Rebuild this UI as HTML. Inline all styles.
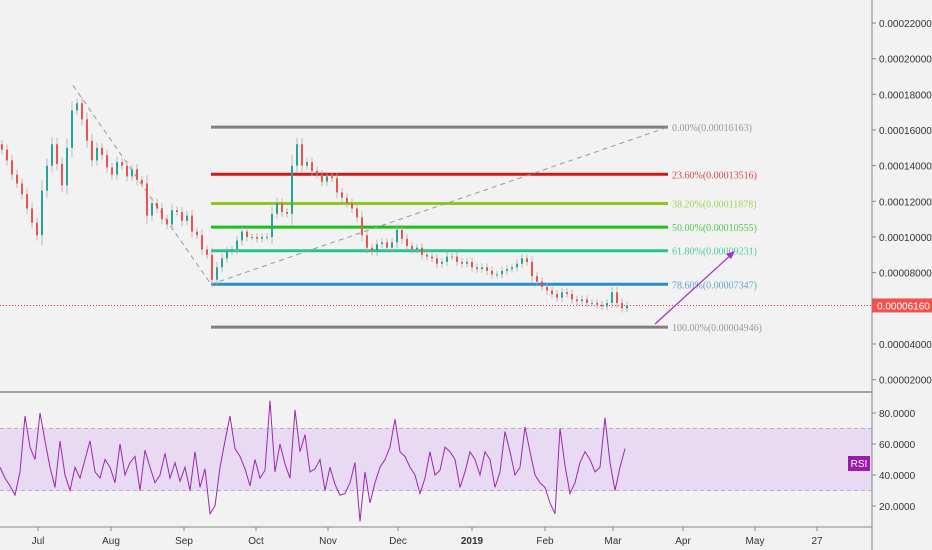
<!DOCTYPE html>
<html><head><meta charset="utf-8">
<style>
body{margin:0;background:#f2f2f2;}
svg{display:block;font-family:"Liberation Sans",sans-serif;}
</style></head>
<body>
<svg id="chart" width="932" height="550" viewBox="0 0 932 550" xmlns="http://www.w3.org/2000/svg">
<rect x="0" y="0" width="932" height="550" fill="#f2f2f2"/>
<g id="rsiband"></g>
<g id="fib"></g>
<g id="candles"></g>
<g id="rsi"></g>
<g id="axes"></g>
</svg>
<script>
// price closes (units of 1e-5)
const closes=[14.9,14.3,13.5,13.0,12.4,11.6,10.8,10.1,12.6,14.0,15.2,14.1,12.9,15.0,17.1,17.5,16.6,15.4,14.3,15.0,14.6,13.9,13.5,14.2,14.0,13.4,13.8,13.2,13.0,11.2,11.9,11.6,11.0,10.7,11.5,11.4,10.9,11.2,10.3,10.1,9.3,9.0,7.6,8.3,8.8,9.2,9.3,9.8,10.3,10.0,10.0,9.9,10.0,10.0,11.3,11.9,11.4,11.3,14.0,15.2,14.0,14.2,13.7,13.5,13.1,13.4,13.3,12.5,12.2,11.9,11.6,11.1,10.1,9.4,9.2,9.6,9.7,9.4,9.7,10.4,9.9,9.5,9.3,9.4,9.0,8.9,8.8,8.5,8.6,8.9,8.9,8.6,8.5,8.6,8.3,8.2,8.3,8.1,7.9,7.9,8.1,8.2,8.3,8.5,8.8,8.6,7.8,7.5,7.2,7.0,6.8,6.6,6.9,6.8,6.5,6.4,6.5,6.3,6.3,6.2,6.1,6.3,6.9,6.3,6.0,6.16];
const rsiVals=[45,38,33,27,42,78,58,50,80,62,45,32,62,40,30,45,38,50,62,42,38,50,45,35,60,40,48,52,30,56,45,35,40,54,38,48,36,45,30,55,32,44,15,20,45,62,78,57,52,44,33,50,38,43,88,42,60,47,38,82,55,66,42,44,50,30,45,34,27,28,35,48,10,42,22,35,45,50,58,76,55,52,45,40,28,38,55,40,43,58,55,50,32,42,55,50,40,55,50,32,42,68,55,40,45,71,55,40,35,32,22,15,70,46,28,35,48,55,50,42,45,77,48,30,45,57];
const fibPct=["0.00%","23.60%","38.20%","50.00%","61.80%","78.60%","100.00%"];
const fibVal=[16.163,13.516,11.878,10.555,9.231,7.347,4.946];
const priceTicks=[2,4,6,8,10,12,14,16,18,20,22];
const rsiTicks=[20,40,60,80];
const monthLabels=["Jul","Aug","Sep","Oct","Nov","Dec","2019","Feb","Mar","Apr","May","27"];
const monthX=[38,111,184,256,328,398,472,545,613,683,755,817];
const lastPrice=6.16;

const NS="http://www.w3.org/2000/svg";
const yP=v=>130+(16-v)*17.83;
const yR=r=>413+(80-r)*1.55;
const xI=i=>i*5;
function mk(tag,attrs,parent){const e=document.createElementNS(NS,tag);for(const k in attrs)e.setAttribute(k,attrs[k]);parent.appendChild(e);return e;}
const fibColors=["#808080","#cc1a1a","#8cc81e","#1ebe1e","#26c493","#2a8ec8","#808080"];
const fibText=["#999","#e04848","#a8d050","#50c850","#50c8a0","#60a8c8","#999"];

// RSI band
const rb=document.getElementById('rsiband');
let e=mk('rect',{x:0,y:yR(70),width:872,height:yR(30)-yR(70),fill:"#e8daf2"},rb);

[70,30].forEach(r=>{e=mk('line',{x1:0,x2:872,y1:yR(r),y2:yR(r),stroke:"#b8b0c0","stroke-dasharray":"4,3"},rb);
});

// fib
const fg=document.getElementById('fib');
fibVal.forEach((v,i)=>{
 e=mk('line',{x1:211,x2:668,y1:yP(v),y2:yP(v),stroke:fibColors[i],"stroke-width":3},fg);
 
 const t=mk('text',{x:672,y:yP(v)+4,fill:fibText[i],"font-size":10,"font-family":"Liberation Serif"},fg);
 t.textContent=fibPct[i]+"("+(v*1e-5).toFixed(8)+")";
 
});
e=mk('line',{x1:73,y1:yP(18.5),x2:211,y2:yP(fibVal[5]),stroke:"#999","stroke-dasharray":"5,4"},fg);

e=mk('line',{x1:211,y1:yP(fibVal[5]),x2:668,y2:yP(fibVal[0]),stroke:"#999","stroke-dasharray":"5,4"},fg);

e=mk('line',{x1:0,x2:872,y1:yP(lastPrice),y2:yP(lastPrice),stroke:"#ee3030","stroke-dasharray":"1,2"},fg);

e=mk('line',{x1:655,y1:324,x2:733,y2:253,stroke:"#a030d0","stroke-width":1.2},fg);

e=mk('path',{d:"M735,251 L726,254 L731,259 Z",fill:"#a030d0"},fg);


// candles
const cg=document.getElementById('candles');
closes.forEach((c,i)=>{
 const o=i?closes[i-1]:c+0.3;
 const d=Math.abs(c-o)*0.15+0.2;
 const hi=Math.max(o,c)+d, lo=Math.min(o,c)-d;
 const col=c>=o?"#26a69a":"#ef5350";
 const x=xI(i)+2;
 e=mk('line',{x1:x,x2:x,y1:yP(hi),y2:yP(lo),stroke:"#aaa","stroke-width":0.8},cg);
 
 e=mk('rect',{x:x-1,y:yP(Math.max(o,c)),width:2,height:Math.max(1,Math.abs(yP(o)-yP(c))),fill:col},cg);
 
});

// rsi
const rg=document.getElementById('rsi');
e=mk('polyline',{points:rsiVals.map((r,i)=>xI(i)+","+yR(r)).join(" "),fill:"none",stroke:"#9c27b0","stroke-width":1},rg);


// axes
const ag=document.getElementById('axes');
e=mk('line',{x1:872,x2:872,y1:0,y2:550,stroke:"#888"},ag);

e=mk('line',{x1:0,x2:872,y1:392,y2:392,stroke:"#888","stroke-width":1.5},ag);

e=mk('line',{x1:0,x2:872,y1:527,y2:527,stroke:"#888"},ag);

priceTicks.forEach(v=>{
 mk('line',{x1:872,x2:876,y1:yP(v),y2:yP(v),stroke:"#888"},ag);
 const t=mk('text',{x:879,y:yP(v)+4,"font-size":10,fill:"#333"},ag);
 t.textContent=(v*1e-5).toFixed(8);
 
});
rsiTicks.forEach(v=>{
 mk('line',{x1:872,x2:876,y1:yR(v),y2:yR(v),stroke:"#888"},ag);
 const t=mk('text',{x:879,y:yR(v)+4,"font-size":10,fill:"#333"},ag);
 t.textContent=v.toFixed(4);
 
});
monthLabels.forEach((m,i)=>{
 mk('line',{x1:monthX[i],x2:monthX[i],y1:527,y2:531,stroke:"#888"},ag);
 const t=mk('text',{x:monthX[i],y:544,"font-size":10,fill:"#333","text-anchor":"middle","font-weight":m==="2019"?"bold":"normal"},ag);
 t.textContent=m;
 
});
e=mk('rect',{x:872,y:yP(lastPrice)-7,width:60,height:14,fill:"#ef5350"},ag);

let t=mk('text',{x:877,y:yP(lastPrice)+4,"font-size":10,fill:"#fff"},ag);
t.textContent=(lastPrice*1e-5).toFixed(8);

e=mk('rect',{x:848,y:456,width:22,height:15,fill:"#9c1aa8"},ag);

t=mk('text',{x:859,y:467,"font-size":10,fill:"#fff","text-anchor":"middle"},ag);
t.textContent="RSI";

</script>
</body></html>
